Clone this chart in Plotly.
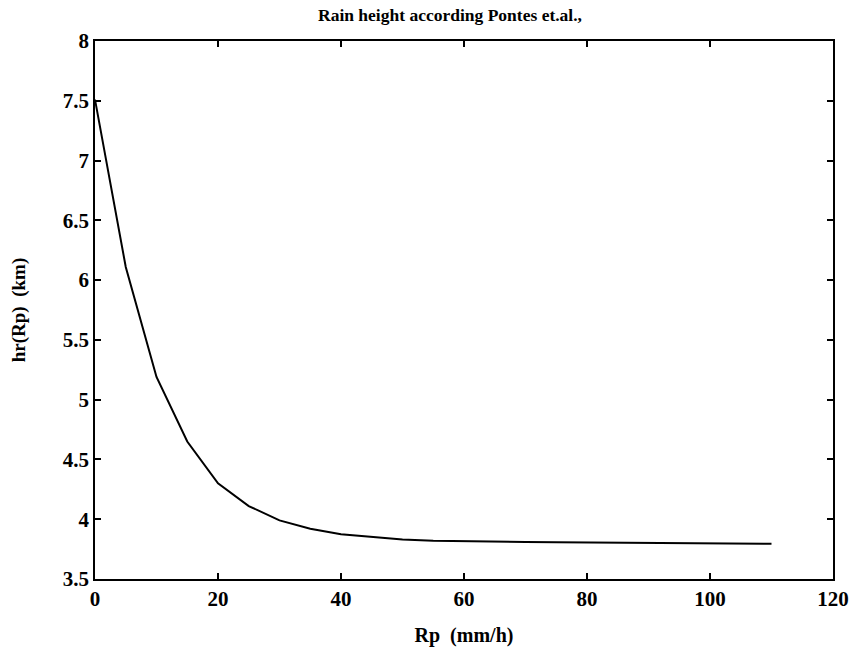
import plotly.graph_objects as go

rp = [0, 5, 10, 15, 20, 25, 30, 35, 40, 45, 50, 55, 60, 65, 70, 75, 80, 85, 90, 95, 100, 105, 110]
hr = [7.51, 6.11, 5.19, 4.65, 4.30, 4.11, 3.99, 3.92, 3.875, 3.85, 3.83, 3.82, 3.815, 3.812, 3.81, 3.808, 3.806, 3.804, 3.802, 3.80, 3.798, 3.797, 3.795]

x_ticks = [0, 20, 40, 60, 80, 100, 120]
y_ticks = [3.5, 4, 4.5, 5, 5.5, 6, 6.5, 7, 7.5, 8]

font = "Liberation Serif"

fig = go.Figure()
fig.add_trace(go.Scatter(x=rp, y=hr, mode="lines",
                         line=dict(color="black", width=2), showlegend=False))

fig.update_layout(
    width=861, height=659,
    margin=dict(l=95, r=23, t=41, b=80),
    paper_bgcolor="white", plot_bgcolor="white",
    title=dict(text="<b>Rain height according Pontes et.al.,</b>", x=450 / 861, xanchor="center",
               y=1 - 15 / 659, yanchor="middle",
               font=dict(family=font, size=17.5, color="black")),
    font=dict(family=font, color="black"),
)
fig.update_xaxes(range=[0, 120], tickvals=x_ticks, ticktext=[f"<b>{v}</b>" for v in x_ticks],
                 ticks="inside", ticklen=6, tickwidth=1.5, tickcolor="black",
                 showline=True, linecolor="black", linewidth=1.5, mirror="ticks",
                 showgrid=False, zeroline=False,
                 tickfont=dict(family=font, size=21, color="black"),
                 title=dict(text="<b>Rp  (mm/h)</b>", standoff=18,
                            font=dict(family=font, size=20, color="black")))
fig.update_yaxes(range=[3.5, 8], tickvals=y_ticks, ticktext=[f"<b>{v:g}</b>" for v in y_ticks],
                 ticks="inside", ticklen=6, tickwidth=1.5, tickcolor="black",
                 showline=True, linecolor="black", linewidth=1.5, mirror="ticks",
                 showgrid=False, zeroline=False,
                 tickfont=dict(family=font, size=21, color="black"),
                 title=dict(text="<b>hr(Rp)  (km)</b>", standoff=32,
                            font=dict(family=font, size=19, color="black")))

fig.write_html("out.html")
